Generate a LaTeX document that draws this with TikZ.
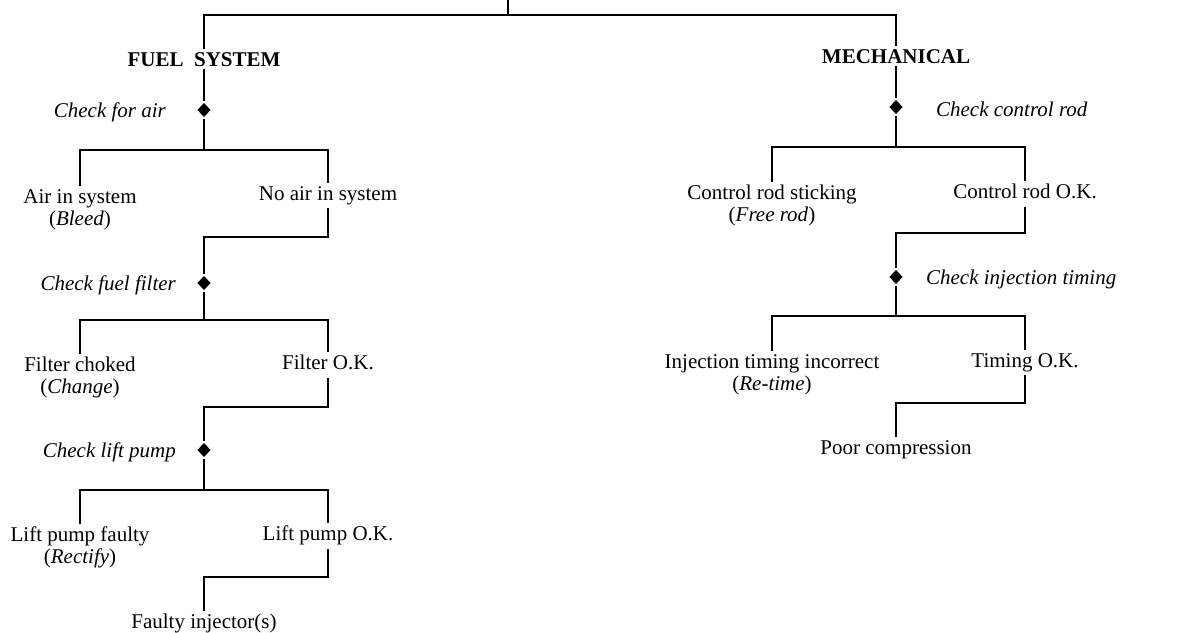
\documentclass[tikz,border=0pt]{standalone}
\usepackage{fontspec}
\setmainfont{Liberation Serif}
\usetikzlibrary{shapes.geometric}
\newcommand{\chartfont}{\fontsize{10.5}{11}\selectfont}
\begin{document}
\begin{tikzpicture}[x=0.5pt, y=-0.5pt, line width=1.15pt,
  every node/.style={font=\chartfont},
  head/.style={font=\chartfont\bfseries, inner sep=1pt, anchor=north},
  outcome/.style={align=center, inner sep=1pt, anchor=north},
  pass/.style={outcome, text depth=2.5pt},
  test/.style={diamond, fill, inner sep=0pt, minimum width=7pt, minimum height=7.5pt},
  check/.style={font=\chartfont\itshape, inner sep=0pt}]
  \useasboundingbox (0,0) rectangle (1188,632);

  % top split
  \coordinate (root) at (508,0);
  \coordinate (top) at (508,15);
  \node[head] (fuel) at (204,49) {FUEL\ \ SYSTEM};
  \node[head] (mech) at (896,46) {MECHANICAL};
  \draw (root) -- (top);
  \draw (fuel.north) |- (top) -| (mech.north);

  % fuel system
  \node[test] (chkair) at (204,110) {};
  \node[check, anchor=east] (chkairtxt) at (167,112) {Check for air};
  \draw (fuel) -- (chkair);
  \coordinate (bar1) at (204,150);
  \node[outcome] (air) at (80,186) {Air in system\\(\textit{Bleed})};
  \node[pass] (noair) at (328,183) {No air in system};
  \draw (chkair) -- (bar1);
  \draw (air.north) |- (bar1) -| (noair.north);

  \coordinate (join1) at (204,237);
  \node[test] (chkfilter) at (204,283) {};
  \node[check, anchor=east] (chkfiltertxt) at (177,285) {Check fuel filter};
  \draw (noair.south) |- (join1) -- (chkfilter);

  \coordinate (bar2) at (204,320);
  \node[outcome] (choked) at (80,354) {Filter choked\\(\textit{Change})};
  \node[pass] (filterok) at (328,352) {Filter O.K.};
  \draw (chkfilter) -- (bar2);
  \draw (choked.north) |- (bar2) -| (filterok.north);

  \coordinate (join2) at (204,407);
  \node[test] (chkpump) at (204,450) {};
  \node[check, anchor=east] (chkpumptxt) at (177,452) {Check lift pump};
  \draw (filterok.south) |- (join2) -- (chkpump);

  \coordinate (bar3) at (204,490);
  \node[outcome] (pumpbad) at (80,524) {Lift pump faulty\\(\textit{Rectify})};
  \node[pass] (pumpok) at (328,523) {Lift pump O.K.};
  \draw (chkpump) -- (bar3);
  \draw (pumpbad.north) |- (bar3) -| (pumpok.north);

  \coordinate (join3) at (204,577);
  \node[outcome] (injector) at (204,611) {Faulty injector(s)};
  \draw (pumpok.south) |- (join3) -- (injector);

  % mechanical
  \node[test] (chkrod) at (896,107) {};
  \node[check, anchor=west] (chkrodtxt) at (935,109) {Check control rod};
  \draw (mech) -- (chkrod);
  \coordinate (bar4) at (896,147);
  \node[outcome] (sticking) at (772,182) {Control rod sticking\\(\textit{Free rod})};
  \node[pass] (rodok) at (1025,181) {Control rod O.K.};
  \draw (chkrod) -- (bar4);
  \draw (sticking.north) |- (bar4) -| (rodok.north);

  \coordinate (join4) at (896,233);
  \node[test] (chktiming) at (896,277) {};
  \node[check, anchor=west] (chktimingtxt) at (925,279) {Check injection timing};
  \draw (rodok.south) |- (join4) -- (chktiming);

  \coordinate (bar5) at (896,316);
  \node[outcome] (timingbad) at (772,351) {Injection timing incorrect\\(\textit{Re-time})};
  \node[pass] (timingok) at (1025,350) {Timing O.K.};
  \draw (chktiming) -- (bar5);
  \draw (timingbad.north) |- (bar5) -| (timingok.north);

  \coordinate (join5) at (896,403);
  \node[outcome] (compression) at (896,437) {Poor compression};
  \draw (timingok.south) |- (join5) -- (compression);
\end{tikzpicture}
\end{document}
